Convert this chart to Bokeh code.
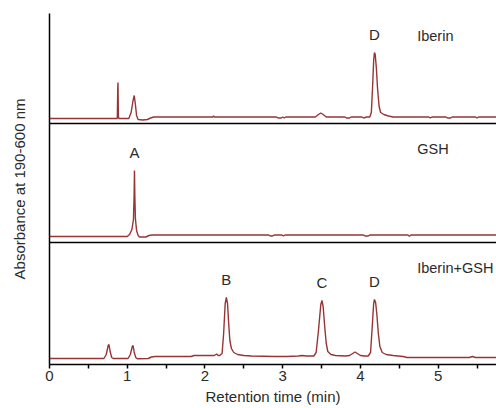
from bokeh.plotting import figure
from bokeh.models import Range1d, Span, FixedTicker, ColumnDataSource
from bokeh.core.properties import value
from bokeh.embed import file_html
from bokeh.resources import INLINE

# ---- data: (retention time [min], relative absorbance) ----
iberin = [(0.00, 0), (0.86, 0), (0.872, 0), (0.878, 30), (0.881, 36), (0.886, 3), (0.892, 0),
          (1.02, 0), (1.05, 6), (1.075, 18), (1.09, 23), (1.105, 14), (1.12, 3), (1.14, -1),
          (1.20, -1.5), (1.26, -1), (1.30, 0.5), (1.34, 1.5), (2.10, 1.5), (2.11, 2.5), (2.12, 1.5),
          (2.92, 1.5), (2.94, 0.5), (2.98, 0.5), (3.00, 1.5), (3.02, 0.5), (3.04, 1.5),
          (3.42, 1.5), (3.46, 4), (3.49, 5.5), (3.52, 4), (3.56, 1.5),
          (3.80, 1.5), (3.82, 0.5), (3.86, 0.5), (3.88, 1.5), (4.02, 1.5), (4.04, 0.5), (4.08, 1.5),
          (4.12, 1.5), (4.14, 6), (4.155, 30), (4.17, 58), (4.18, 66), (4.19, 64), (4.205, 50),
          (4.22, 30), (4.24, 12), (4.26, 6), (4.30, 4), (4.36, 2.5), (4.42, 1.5), (4.50, 1.5),
          (4.88, 1.5), (4.90, 0.5), (4.92, 1.5), (5.10, 1.5), (5.12, 0.5), (5.16, 0.5), (5.18, 1.5),
          (5.48, 1.5), (5.50, 0.5), (5.52, 1.5), (5.75, 1.5)]

gsh = [(0.00, 0), (1.00, 0), (1.03, 2), (1.06, 7), (1.08, 17), (1.088, 40), (1.093, 66),
       (1.098, 40), (1.105, 18), (1.12, 6), (1.14, 1), (1.16, -0.5), (1.24, -0.5), (1.28, 1),
       (1.32, 1.5), (2.82, 1.5), (2.84, 0.5), (2.87, 0.5), (2.89, 1.5), (2.99, 1.5), (3.01, 0.5),
       (3.03, 1.5), (4.04, 1.5), (4.06, 0.5), (4.10, 0.5), (4.12, 1.5), (4.61, 1.5), (4.63, 0.3),
       (4.65, 1.5), (5.75, 1.5)]

mix = [(0.00, 0), (0.70, 0), (0.73, 4), (0.755, 13), (0.765, 14), (0.78, 7), (0.80, 1), (0.82, 0),
       (1.01, 0), (1.04, 4), (1.065, 12), (1.075, 13), (1.09, 6), (1.11, 1), (1.13, -0.3),
       (1.27, 0), (1.31, 1.5), (1.36, 2), (1.82, 2), (1.86, 3), (2.12, 3), (2.15, 4.5), (2.17, 3),
       (2.19, 3), (2.22, 5), (2.24, 25), (2.26, 55), (2.275, 61), (2.29, 55), (2.305, 35),
       (2.32, 18), (2.34, 10), (2.37, 6), (2.42, 4), (2.50, 3), (2.60, 2.5), (2.90, 2), (3.05, 2),
       (3.20, 2.5), (3.25, 3), (3.30, 2.5), (3.40, 2.5), (3.43, 6), (3.46, 28), (3.49, 54),
       (3.505, 58), (3.52, 52), (3.54, 32), (3.56, 15), (3.58, 7), (3.62, 4), (3.68, 3),
       (3.80, 2.5), (3.86, 3), (3.90, 5), (3.93, 6.5), (3.96, 5), (4.00, 3), (4.05, 2.5),
       (4.10, 2.5), (4.13, 6), (4.15, 30), (4.17, 55), (4.18, 59), (4.195, 56), (4.21, 45),
       (4.23, 25), (4.25, 12), (4.28, 6), (4.33, 4), (4.42, 3), (4.55, 2), (4.60, 1),
       (5.40, 1), (5.44, 2), (5.48, 1), (5.75, 1)]

panel_names = ["Iberin", "GSH", "Iberin+GSH"]
peak_labels = [["D"], ["A"], ["B", "C", "D"]]
peak_times = [[4.18], [1.093], [2.275, 3.505, 4.18]]
peak_heights = [[66], [66], [61, 58, 59]]

# layout of stacked panels (vertical offsets in plot units)
offsets = [240, 122, 0]
dividers = [235, 116]

traces = [iberin, gsh, mix]

FONT = "Liberation Sans"
LINE = "#983434"
TXT = "#2b2b2b"

p = figure(width=496, height=408, output_backend="svg", toolbar_location=None,
           x_range=Range1d(0, 5.75), y_range=Range1d(-6, 345),
           min_border_left=49, min_border_right=0, min_border_top=13, min_border_bottom=44)
p.outline_line_color = None
p.grid.visible = False
p.background_fill_color = "white"
p.border_fill_color = "white"

for tr, off in zip(traces, offsets):
    t = [a for a, b in tr]
    y = [b + off for a, b in tr]
    p.line(t, y, line_color=LINE, line_width=1.4)

for d in dividers:
    p.add_layout(Span(location=d, dimension="width", line_color="black", line_width=1.5))

# peak letters
lx, ly, lt = [], [], []
for names, times, hts, off in zip(peak_labels, peak_times, peak_heights, offsets):
    for n, t, h in zip(names, times, hts):
        lx.append(t)
        ly.append(off + h + 18)
        lt.append(n)
p.text(x="x", y="y", text="t", source=ColumnDataSource(dict(x=lx, y=ly, t=lt)),
       text_font=value(FONT), text_font_size="15px", text_color=TXT,
       text_align="center", text_baseline="middle")

# panel names
ny = [off + 83 if i == 0 else off + 88 if i == 1 else off + 91 for i, off in enumerate(offsets)]
p.text(x=[4.73] * 3, y=ny, text=panel_names,
       text_font=value(FONT), text_font_size="14.5px", text_color=TXT,
       text_align="left", text_baseline="middle")

# axes
xa = p.xaxis[0]
xa.ticker = FixedTicker(ticks=[0, 1, 2, 3, 4, 5], minor_ticks=[0.5, 1.5, 2.5, 3.5, 4.5, 5.5])
xa.axis_label = "Retention time (min)"
xa.axis_line_color = "black"
xa.axis_line_width = 1.5
xa.major_tick_in = 0
xa.major_tick_out = 4
xa.minor_tick_in = 0
xa.minor_tick_out = 4
xa.major_tick_line_width = 1.5
xa.minor_tick_line_width = 1.5
xa.major_tick_line_color = "black"
xa.minor_tick_line_color = "black"
xa.major_label_text_font = FONT
xa.major_label_text_font_size = "15px"
xa.major_label_text_color = TXT
xa.major_label_standoff = 2
xa.axis_label_text_font = FONT
xa.axis_label_text_font_size = "15px"
xa.axis_label_text_font_style = "normal"
xa.axis_label_text_color = TXT
xa.axis_label_standoff = 4

ya = p.yaxis[0]
ya.ticker = FixedTicker(ticks=[])
ya.axis_line_color = "black"
ya.axis_line_width = 1.5
ya.major_tick_line_color = None
ya.minor_tick_line_color = None
ya.major_label_standoff = 0
ya.axis_label = "Absorbance at 190-600 nm"
ya.axis_label_text_font = FONT
ya.axis_label_text_font_size = "15px"
ya.axis_label_text_font_style = "normal"
ya.axis_label_text_color = TXT
ya.axis_label_standoff = 22

open("out.html", "w").write(file_html(p, INLINE))
